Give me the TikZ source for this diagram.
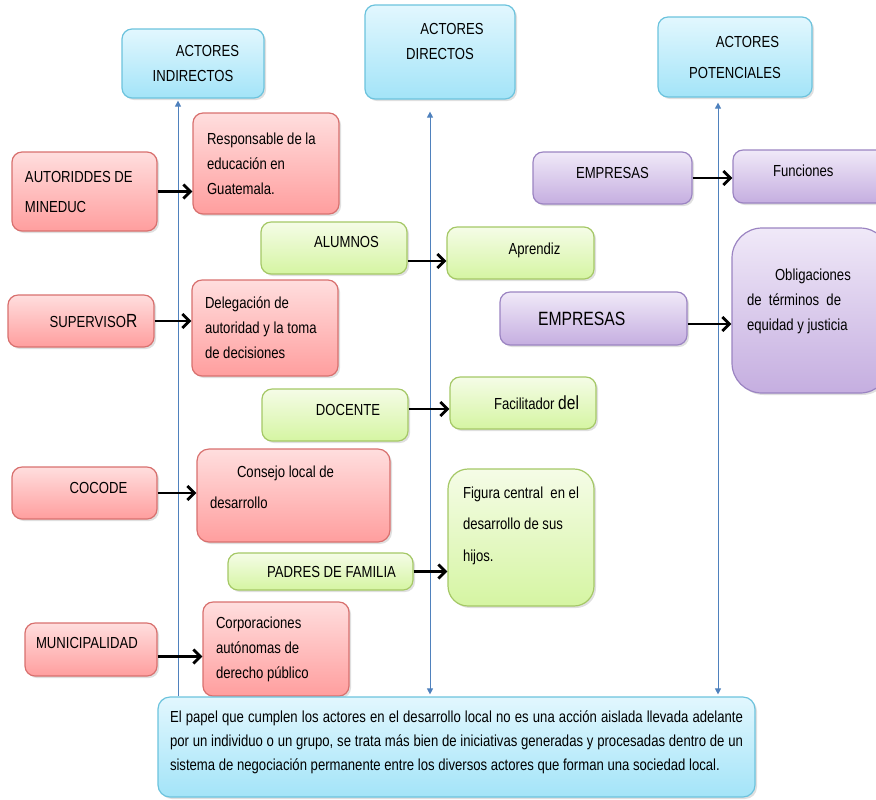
\documentclass[tikz,border=0pt]{standalone}
\usepackage{fontspec}
\setmainfont{Liberation Sans}[FakeStretch=0.82]
\usetikzlibrary{arrows.meta, positioning, shadows}

\definecolor{headtop}{HTML}{E2F7FE}
\definecolor{headbot}{HTML}{A3E4F8}
\definecolor{headline}{HTML}{6CC3DD}
\definecolor{redtop}{HTML}{FFDEDE}
\definecolor{redbot}{HTML}{FF9E9E}
\definecolor{redline}{HTML}{D8706E}
\definecolor{greentop}{HTML}{F5FCE7}
\definecolor{greenbot}{HTML}{D5F5A2}
\definecolor{greenline}{HTML}{A5C866}
\definecolor{purpletop}{HTML}{F0E9F8}
\definecolor{purplebot}{HTML}{C5AEE0}
\definecolor{purpleline}{HTML}{9B84C2}
\definecolor{axisblue}{HTML}{4F81BD}

% empty last line, pushes the text up inside its box
\newcommand\lift[1]{\\[#1]\mbox{}}

\begin{document}
\begin{tikzpicture}[
    x=0.5pt, y=-0.5pt,
    every node/.style={font=\fontsize{8}{12.5}\selectfont, inner sep=0pt},
    box/.style={rectangle, rounded corners=5pt, line width=0.6pt, align=center,
        drop shadow={shadow xshift=1pt, shadow yshift=-1pt, opacity=0.25}},
    headbox/.style={box, draw=headline, top color=headtop, bottom color=headbot},
    redbox/.style={box, draw=redline, top color=redtop, bottom color=redbot},
    greenbox/.style={box, draw=greenline, top color=greentop, bottom color=greenbot},
    purplebox/.style={box, draw=purpleline, top color=purpletop, bottom color=purplebot},
    link/.style={-{Straight Barb[length=3.5pt,width=7pt]}, line width=1.4pt},
    axis/.style={draw=axisblue, line width=0.5pt}
]
\useasboundingbox (0,0) rectangle (876,799);

% three groups of actors
\node[headbox, minimum width=71pt, minimum height=34.5pt] (ind) at (193,63.5) {\hspace*{14.5pt}ACTORES\\INDIRECTOS};
\node[headbox, minimum width=75pt, minimum height=47pt] (dir) at (440,52) {\hspace*{12pt}ACTORES\\DIRECTOS\lift{-2pt}};
\node[headbox, minimum width=77pt, minimum height=40pt] (pot) at (735,57) {\hspace*{12.5pt}ACTORES\\[3pt]POTENCIALES};

% indirect actors
\node[redbox, minimum width=72.5pt, minimum height=39.5pt, text width=59.5pt, align=flush left] (mineduc) at (84.5,191.5) {AUTORIDDES DE\\[2.5pt]MINEDUC};
\node[redbox, minimum width=73pt, minimum height=50.5pt, text width=59pt, align=flush left] (resp) at (266,163.5) {Responsable de la\\educación en\\Guatemala.};
\node[redbox, minimum width=73pt, minimum height=26pt] (sup) at (81,321) {\hspace*{12.5pt}SUPERVISO{\fontsize{9.5}{12.5}\selectfont R}};
\node[redbox, minimum width=73pt, minimum height=48pt, text width=60pt, align=flush left] (deleg) at (265,328) {Delegación de\\autoridad y la toma\\de decisiones};
\node[redbox, minimum width=72.5pt, minimum height=26pt] (cocode) at (84.5,493) {\hspace*{14pt}COCODE\lift{-7.5pt}};
\node[redbox, minimum width=96.5pt, minimum height=46.5pt, text width=83.5pt, align=flush left, rounded corners=6pt] (consejo) at (293.5,495.5) {\hspace*{13.5pt}Consejo local de\\[3pt]desarrollo\lift{-4.5pt}};
\node[redbox, minimum width=66pt, minimum height=26.5pt, text width=55pt, align=flush left] (muni) at (91,649.5) {MUNICIPALIDAD\lift{-6pt}};
\node[redbox, minimum width=73pt, minimum height=47pt, text width=60pt, align=flush left] (corp) at (276,649) {Corporaciones\\autónomas de\\derecho público};

% direct actors
\node[greenbox, minimum width=73pt, minimum height=26pt] (alumnos) at (334,248) {\hspace*{12.5pt}ALUMNOS\lift{-6.5pt}};
\node[greenbox, minimum width=73.5pt, minimum height=26pt] (aprendiz) at (520.5,253) {\hspace*{14pt}Aprendiz\lift{-8.5pt}};
\node[greenbox, minimum width=73pt, minimum height=26pt] (docente) at (335,415) {\hspace*{13pt}DOCENTE\lift{-7.5pt}};
\node[greenbox, minimum width=73pt, minimum height=26pt] (facil) at (523,403) {\hspace*{13.5pt}Facilitador {\fontsize{9.5}{12.5}\selectfont del}};
\node[greenbox, minimum width=92.5pt, minimum height=18.5pt] (padres) at (320.5,571.5) {\hspace*{11pt}PADRES DE FAMILIA};
\node[greenbox, minimum width=73pt, minimum height=68.5pt, text width=58pt, align=flush left, rounded corners=10pt] (figura) at (521,537.5) {Figura central\ \ en el\\[3.25pt]desarrollo de sus\\[3.25pt]hijos.\lift{1pt}};

% potential actors
\node[purplebox, minimum width=79.5pt, minimum height=26pt] (empA) at (612.5,178) {EMPRESAS\lift{-7.5pt}};
\node[purplebox, minimum width=77.5pt, minimum height=26.5pt, text width=37.5pt, align=flush left] (func) at (810.5,176.5) {Funciones\lift{-7pt}};
\node[purplebox, minimum width=93.5pt, minimum height=26.5pt, text width=55.5pt, align=flush left, font=\fontsize{9.6}{12}\selectfont] (empB) at (593.5,318.5) {EMPRESAS};
\node[purplebox, minimum width=79pt, minimum height=82.5pt, text width=64pt, align=flush left, rounded corners=15pt] (oblig) at (811,310.5) {\hspace*{14pt}Obligaciones\\de\ \ términos\ \ de\\equidad y justicia\lift{-1.3pt}};

% summary
\node[headbox, minimum width=298.5pt, minimum height=50pt, text width=286.5pt, align=justify, rounded corners=6pt, font=\fontsize{8}{12}\selectfont] (resumen) at (456.5,747) {El papel que cumplen los actores en el desarrollo local no es una acción aislada llevada adelante\linebreak por un individuo o un grupo, se trata más bien de iniciativas generadas y procesadas dentro de un\linebreak sistema de negociación permanente entre los diversos actores que forman una sociedad local.\lift{-5.8pt}};

% blue axes
\coordinate (c1) at (178,0);
\coordinate (c2) at (430,0);
\coordinate (c3) at (718,0);
\draw[axis, -{Triangle[length=3pt,width=3pt]}, shorten >=1pt] (resumen.north -| c1) -- (ind.south -| c1);
\draw[axis, {Triangle[length=3pt,width=3pt]}-{Triangle[length=3pt,width=3pt]}, shorten <=6pt, shorten >=1pt] (dir.south -| c2) -- (resumen.north -| c2);
\draw[axis, {Triangle[length=3pt,width=3pt]}-{Triangle[length=3pt,width=3pt]}, shorten <=2.5pt, shorten >=1pt] (pot.south -| c3) -- (resumen.north -| c3);

% black arrows
\draw[link] (mineduc.east) -- (mineduc.east -| resp.west);
\draw[link] (sup.east) -- (sup.east -| deleg.west);
\draw[link] (cocode.east) -- (cocode.east -| consejo.west);
\draw[link] ([yshift=-3.5pt]muni.east) -- ([yshift=-3.5pt]muni.east -| corp.west);
\draw[link] ([yshift=-6.5pt]alumnos.east) -- ([yshift=-6.5pt]alumnos.east -| aprendiz.west);
\draw[link] ([yshift=3pt]docente.east) -- ([yshift=3pt]docente.east -| facil.west);
\draw[link] (padres.east) -- (padres.east -| figura.west);
\draw[link] (empA.east) -- (empA.east -| func.west);
\draw[link] ([yshift=-2.75pt]empB.east) -- ([yshift=-2.75pt]empB.east -| oblig.west);
\end{tikzpicture}
\end{document}
